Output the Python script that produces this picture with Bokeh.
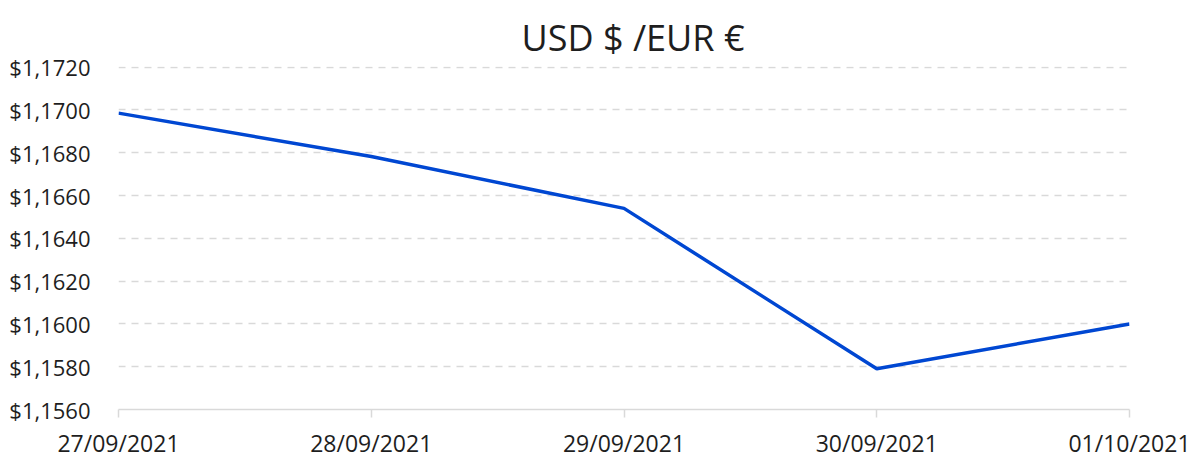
from bokeh.plotting import figure
from bokeh.models import Range1d, FixedTicker, CustomJSTickFormatter
from bokeh.embed import file_html
from bokeh.resources import INLINE

dates = ["27/09/2021", "28/09/2021", "29/09/2021", "30/09/2021", "01/10/2021"]
rates = [1.16985, 1.16782, 1.16540, 1.15790, 1.16000]
y_ticks = [1.156, 1.158, 1.160, 1.162, 1.164, 1.166, 1.168, 1.170, 1.172]
title_text = "USD $ /EUR €"

FONT = "Open Sans"
TXT = "#1e1e1e"

xs = list(range(len(dates)))

p = figure(width=1198, height=461, output_backend="svg", toolbar_location=None,
           x_range=Range1d(0, len(dates) - 1), y_range=Range1d(y_ticks[0], y_ticks[-1] + 0.00003),
           min_border_left=118, min_border_right=69, min_border_top=66, min_border_bottom=50)
p.outline_line_color = None
p.background_fill_color = "white"
p.border_fill_color = "white"

p.title.text = title_text
p.title.text_font = FONT
p.title.text_font_size = "36px"
p.title.text_font_style = "normal"
p.title.text_color = TXT
p.title.align = "left"
p.title.vertical_align = "top"
p.title.offset = 403
p.title.standoff = 5

p.line(xs, rates, line_color="#0047D2", line_width=3.5)

# x axis
xa = p.xaxis[0]
xa.ticker = FixedTicker(ticks=xs)
xa.major_label_overrides = {i: d for i, d in enumerate(dates)}
xa.axis_line_color = "#d9d9d9"
xa.axis_line_width = 1.5
xa.major_tick_line_color = "#d9d9d9"
xa.major_tick_line_width = 1.5
xa.major_tick_out = 8
xa.major_tick_in = 0
xa.minor_tick_line_color = None
xa.major_label_text_font = FONT
xa.major_label_text_font_size = "23px"
xa.major_label_text_color = TXT
xa.major_label_standoff = 9

# y axis
ya = p.yaxis[0]
ya.ticker = FixedTicker(ticks=y_ticks)
ya.formatter = CustomJSTickFormatter(code="return '$' + tick.toFixed(4).replace('.', ',');")
ya.axis_line_color = None
ya.major_tick_line_color = None
ya.minor_tick_line_color = None
ya.major_tick_out = 0
ya.major_tick_in = 0
ya.major_label_text_font = FONT
ya.major_label_text_font_size = "22px"
ya.major_label_text_color = TXT
ya.major_label_standoff = 28

p.xgrid.grid_line_color = None
p.ygrid.ticker = FixedTicker(ticks=y_ticks[1:])
p.ygrid.grid_line_color = "#d9d9d9"
p.ygrid.grid_line_width = 1.5
p.ygrid.grid_line_dash = "7 6"

open("out.html", "w").write(file_html(p, INLINE))
